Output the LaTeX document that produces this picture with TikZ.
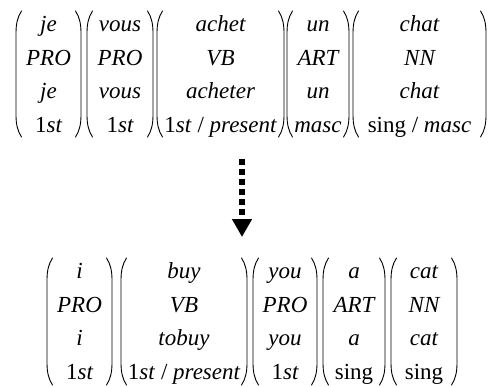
\documentclass[tikz,border=0pt]{standalone}
\usepackage{fontspec}
\setmainfont{Liberation Serif}
\usetikzlibrary{arrows.meta}
\newcommand\ordst{\textup{1}st}
\newcommand\lparen[3]{\draw[parline] ({#1+5.5},#2) .. controls ({#1+1.5},{#2+6}) and (#1,{#2+13}) .. (#1,{#2+22}) -- (#1,{#3-22}) .. controls (#1,{#3-13}) and ({#1+1.5},{#3-6}) .. ({#1+5.5},#3);}
\newcommand\rparen[3]{\draw[parline] ({#1-5.5},#2) .. controls ({#1-1.5},{#2+6}) and (#1,{#2+13}) .. (#1,{#2+22}) -- (#1,{#3-22}) .. controls (#1,{#3-13}) and ({#1-1.5},{#3-6}) .. ({#1-5.5},#3);}
\tikzset{
  cell/.style={anchor=base, inner sep=0pt, font=\fontsize{23}{27}\selectfont\itshape},
  parline/.style={line width=0.9pt, line cap=round},
  dotarrow/.style={line width=5.5pt, dash pattern=on 5.5pt off 4.5pt, -{Triangle[width=19pt,length=18pt]}}
}
\begin{document}
\begin{tikzpicture}[x=1pt,y=-1pt]
\useasboundingbox (0,0) rectangle (494,386);
% ---- top row (French) ----
\foreach \l/\r in {16/81, 87/153, 157/284, 287/349, 353/486} {\lparen{\l}{11}{137} \rparen{\r}{11}{137}}
\node[cell] (t1a) at (48.5,31) {je};
\node[cell] (t1b) at (48.5,65) {PRO};
\node[cell] (t1c) at (48.5,98) {je};
\node[cell] (t1d) at (48.5,132) {\ordst};
\node[cell] (t2a) at (120,31) {vous};
\node[cell] (t2b) at (120,65) {PRO};
\node[cell] (t2c) at (120,98) {vous};
\node[cell] (t2d) at (120,132) {\ordst};
\node[cell] (t3a) at (220.5,31) {achet};
\node[cell] (t3b) at (220.5,65) {VB};
\node[cell] (t3c) at (220.5,98) {acheter};
\node[cell] (t3d) at (220.5,132) {\ordst\textup{ / }present};
\node[cell] (t4a) at (318,31) {un};
\node[cell] (t4b) at (318,65) {ART};
\node[cell] (t4c) at (318,98) {un};
\node[cell] (t4d) at (318,132) {masc};
\node[cell] (t5a) at (419.5,31) {chat};
\node[cell] (t5b) at (419.5,65) {NN};
\node[cell] (t5c) at (419.5,98) {chat};
\node[cell] (t5d) at (419.5,132) {\textup{sing / }masc};
% ---- arrow ----
\coordinate (arrtop) at (242,159);
\coordinate (arrtip) at (242,237);
\draw[dotarrow] (arrtop) -- (arrtip);
% ---- bottom row (English) ----
\foreach \l/\r in {47/112, 121/247, 253/317, 323/385, 391/457} {\lparen{\l}{258}{385} \rparen{\r}{258}{385}}
\node[cell] (b1a) at (79.5,278) {i};
\node[cell] (b1b) at (79.5,312) {PRO};
\node[cell] (b1c) at (79.5,345) {i};
\node[cell] (b1d) at (79.5,379) {\ordst};
\node[cell] (b2a) at (184,278) {buy};
\node[cell] (b2b) at (184,312) {VB};
\node[cell] (b2c) at (184,345) {tobuy};
\node[cell] (b2d) at (184,379) {\ordst\textup{ / }present};
\node[cell] (b3a) at (285,278) {you};
\node[cell] (b3b) at (285,312) {PRO};
\node[cell] (b3c) at (285,345) {you};
\node[cell] (b3d) at (285,379) {\ordst};
\node[cell] (b4a) at (354,278) {a};
\node[cell] (b4b) at (354,312) {ART};
\node[cell] (b4c) at (354,345) {a};
\node[cell] (b4d) at (354,379) {\textup{sing}};
\node[cell] (b5a) at (424,278) {cat};
\node[cell] (b5b) at (424,312) {NN};
\node[cell] (b5c) at (424,345) {cat};
\node[cell] (b5d) at (424,379) {\textup{sing}};
\end{tikzpicture}
\end{document}
